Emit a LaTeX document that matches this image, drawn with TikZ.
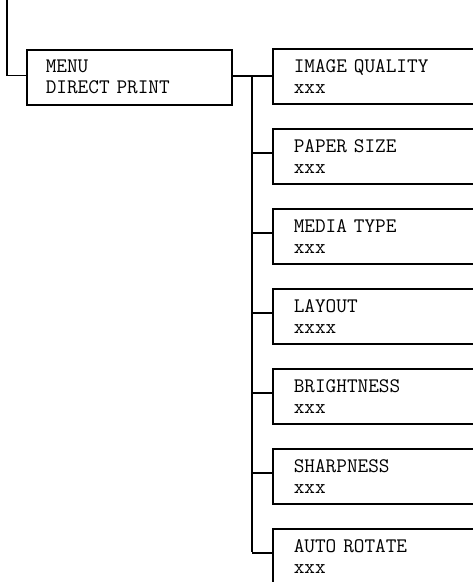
\documentclass[tikz,border=0pt]{standalone}
\usepackage{fontspec}
\usepackage{tikz}

\tikzset{
  menubox/.style={draw, line width=1.2pt, rectangle, anchor=north west,
    minimum width=153.75pt, minimum height=41.25pt, text width=125.25pt,
    inner xsep=14.25pt, inner ysep=0pt, align=left,
    font=\ttfamily\fontsize{15.5}{15.75}\selectfont},
  itembox/.style={menubox, minimum width=156pt, text width=124.5pt, inner xsep=15.75pt},
  link/.style={line width=1.2pt}
}

\begin{document}
\begin{tikzpicture}[x=0.75pt,y=0.75pt,yscale=-1,xscale=1]

  % Frame
  \useasboundingbox (0,0) rectangle (473,582);
  \clip (0,0) rectangle (473,582);

  % Menu
  \coordinate (entry) at (7,0);
  \node [menubox] (menu) at (26,49) {MENU\\DIRECT PRINT};
  \draw [link] (entry) |- ([yshift=-1.5pt]menu.west);

  % Items
  \foreach \name/\label/\val [count=\i] in {quality/IMAGE QUALITY/xxx, paper/PAPER SIZE/xxx,
      media/MEDIA TYPE/xxx, layout/LAYOUT/xxxx, bright/BRIGHTNESS/xxx,
      sharp/SHARPNESS/xxx, rotate/AUTO ROTATE/xxx}
    \node [itembox] (\name) at (272,{48+80*(\i-1)}) {\label\\\val};

  % Links
  \coordinate (spine) at (252,0);
  \draw [link] ([yshift=-1pt]menu.east) -- ([yshift=-1pt]menu.east -| quality.west);
  \draw [link] ([yshift=-1pt]menu.east -| spine) -- ([yshift=-3.5pt]rotate.west -| spine);
  \foreach \name in {paper,media,layout,bright,sharp,rotate}
    \draw [link] ([yshift=-2.5pt]\name.west -| spine) -- ([yshift=-2.5pt]\name.west);

\end{tikzpicture}
\end{document}
